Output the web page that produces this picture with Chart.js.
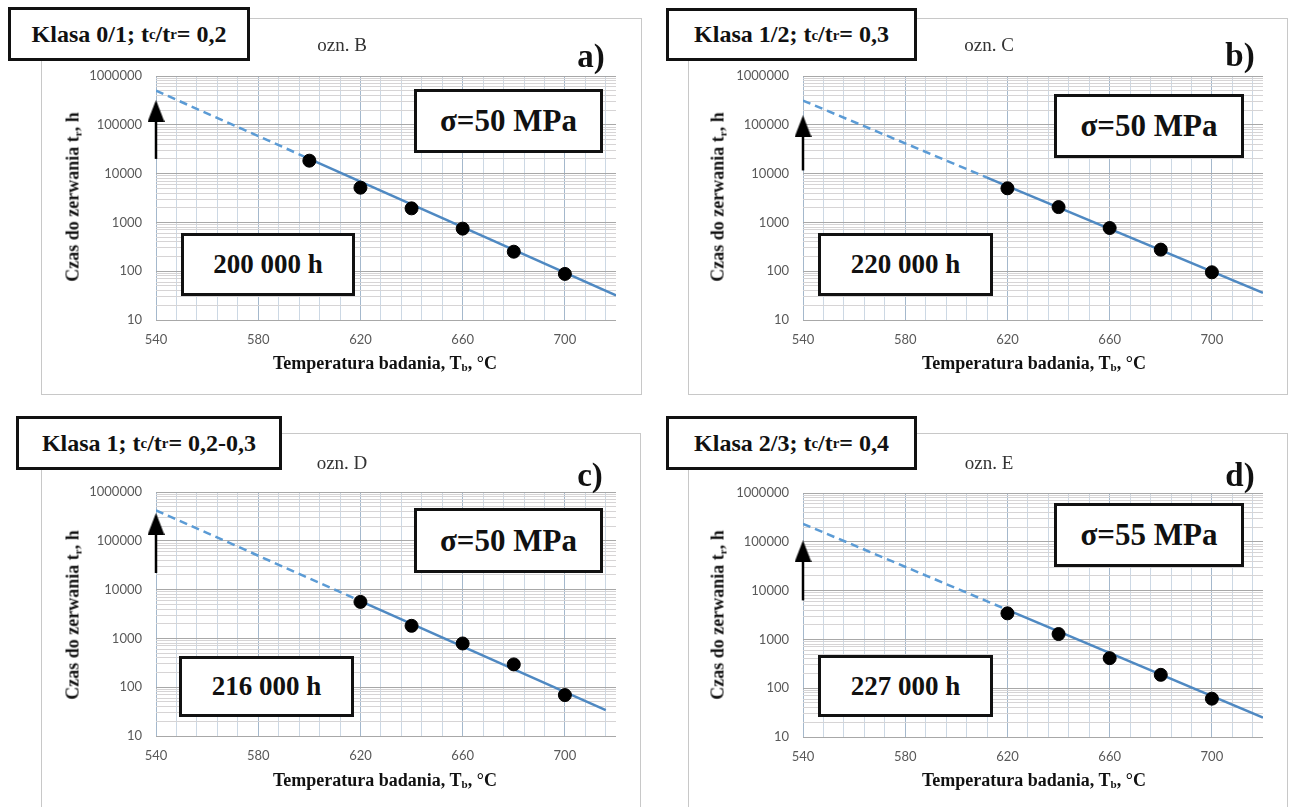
<!DOCTYPE html>
<html>
<head>
<meta charset="utf-8">
<script src="https://cdn.jsdelivr.net/npm/chart.js@4.4.1/dist/chart.umd.min.js"></script>
<style>
  body { margin: 0; width: 1290px; height: 807px; overflow: hidden; position: relative; background: #fff;
         font-family: 'Liberation Serif', 'Times New Roman', serif; }
  .ramka { position: absolute; box-sizing: border-box; border: 1px solid #c8c8c8; background: #fff; }
  canvas { position: absolute; }
  .box { position: absolute; box-sizing: border-box; border: 3px solid #111; background: #fff; color: #111;
         display: flex; align-items: center; justify-content: center; font-weight: bold; white-space: nowrap; }
  .txt { position: absolute; transform: translate(-50%, -50%); white-space: nowrap; color: #111; }
  .ytit { transform: translate(-50%, -50%) rotate(-90deg); }
  sub { font-size: 62%; vertical-align: -0.25em; line-height: 0; }
</style>
</head>
<body>
<script>
  // ---------- dane ----------
  const xLabels = [540, 580, 620, 660, 700];
  const yLabels = [10, 100, 1000, 10000, 100000, 1000000];

  const tempA = [600, 620, 640, 660, 680, 700];
  const czasA = [18400, 5150, 1940, 745, 251, 88];
  const tempBCD = [620, 640, 660, 680, 700];
  const czasB = [5000, 2060, 767, 277, 95];
  const czasC = [5600, 1810, 787, 293, 69];
  const czasD = [3420, 1288, 413, 188, 61];

  // linia trendu: [start, koniec ekstrapolacji, koniec]
  const trendTA = [540, 600, 720], trendVA = [500000, 20100, 32];
  const trendTB = [540, 612, 720], trendVB = [313000, 8300, 36];
  const trendTC = [540, 620, 716], trendVC = [422000, 5820, 34];
  const trendTD = [540, 620, 720], trendVD = [234000, 4030, 25];

  // strzałka przy 540 °C: [dół, grot]
  const strzalkaA = [20000, 192000];
  const strzalkaB = [11600, 93500];
  const strzalkaC = [21900, 221000];
  const strzalkaD = [6300, 64000];

  // linie siatki (Excel: minor co 8 °C, log co 1..9)
  const xGrid = [];
  for (let v = 540; v < 720; v += 8) xGrid.push(v);
  const yGrid = [];
  yLabels.forEach(d => { for (let m = 1; m <= 9; m++) if (d * m <= 1000000) yGrid.push(d * m); });

  // grot strzałki (węższy i wyższy niż 'triangle')
  const grot = document.createElement("canvas");
  grot.width = 17; grot.height = 22;
  const g = grot.getContext("2d");
  g.fillStyle = "#000";
  g.beginPath(); g.moveTo(8.5, 0); g.lineTo(17, 22); g.lineTo(0, 22); g.closePath(); g.fill();

  const panele = [
    { temp: tempA, czas: czasA, trT: trendTA, trV: trendVA, arrow: strzalkaA,
      klasa: "Klasa 0/1; t<sub>c</sub>/t<sub>r</sub>= 0,2", ozn: "ozn. B", lit: "a)", sigma: "σ=50 MPa", godz: "200 000 h",
      plot: [156, 76], ramka: [41, 18, 601, 377], kBox: [8, 7, 242, 54], oznPos: [342, 45], litPos: [591, 56],
      sBox: [414, 89, 189, 64], gBox: [181, 233, 174, 63], yT: [73, 197], xT: [385, 363] },
    { temp: tempBCD, czas: czasB, trT: trendTB, trV: trendVB, arrow: strzalkaB,
      klasa: "Klasa 1/2; t<sub>c</sub>/t<sub>r</sub>= 0,3", ozn: "ozn. C", lit: "b)", sigma: "σ=50 MPa", godz: "220 000 h",
      plot: [803, 76], ramka: [688, 18, 600, 377], kBox: [666, 8, 251, 53], oznPos: [989, 45], litPos: [1240, 55],
      sBox: [1054, 94, 190, 64], gBox: [818, 233, 175, 63], yT: [718, 197], xT: [1034, 363] },
    { temp: tempBCD, czas: czasC, trT: trendTC, trV: trendVC, arrow: strzalkaC,
      klasa: "Klasa 1; t<sub>c</sub>/t<sub>r</sub>= 0,2-0,3", ozn: "ozn. D", lit: "c)", sigma: "σ=50 MPa", godz: "216 000 h",
      plot: [156, 492], ramka: [41, 433, 600, 390], kBox: [16, 416, 266, 54], oznPos: [342, 463], litPos: [590, 475],
      sBox: [414, 508, 189, 65], gBox: [179, 656, 175, 61], yT: [73, 615], xT: [385, 780] },
    { temp: tempBCD, czas: czasD, trT: trendTD, trV: trendVD, arrow: strzalkaD,
      klasa: "Klasa 2/3; t<sub>c</sub>/t<sub>r</sub>= 0,4", ozn: "ozn. E", lit: "d)", sigma: "σ=55 MPa", godz: "227 000 h",
      plot: [803, 493], ramka: [688, 433, 600, 390], kBox: [666, 416, 251, 54], oznPos: [989, 463], litPos: [1240, 475],
      sBox: [1054, 503, 190, 64], gBox: [818, 655, 175, 62], yT: [718, 615], xT: [1034, 780] }
  ];

  function el(cls, html, css) {
    const d = document.createElement("div");
    d.className = cls;
    d.innerHTML = html;
    Object.assign(d.style, css);
    document.body.appendChild(d);
    return d;
  }
  const rect = r => ({ left: r[0] + "px", top: r[1] + "px", width: r[2] + "px", height: r[3] + "px" });
  const pos = p => ({ left: p[0] + "px", top: p[1] + "px" });
  const pkt = (T, V, i) => ({ x: T[i], y: V[i] });

  panele.forEach(p => {
    el("ramka", "", rect(p.ramka));

    const cv = document.createElement("canvas");
    cv.width = 601; cv.height = 377;
    cv.style.left = (p.plot[0] - 115) + "px";
    cv.style.top = (p.plot[1] - 58) + "px";
    document.body.appendChild(cv);

    new Chart(cv.getContext("2d"), {
      type: "scatter",
      data: {
        datasets: [
          { // punkty pomiarowe
            data: p.temp.map((t, i) => ({ x: t, y: p.czas[i] })),
            backgroundColor: "#000", borderColor: "#000", pointRadius: 6.5, pointHoverRadius: 6.5
          },
          { // ekstrapolacja
            data: [pkt(p.trT, p.trV, 0), pkt(p.trT, p.trV, 1)],
            showLine: true, borderColor: "#5b9bd5", borderWidth: 2.5, borderDash: [8, 5], pointRadius: 0
          },
          { // zakres badań
            data: [pkt(p.trT, p.trV, 1), pkt(p.trT, p.trV, 2)],
            showLine: true, borderColor: "#4f89c2", borderWidth: 2.5, pointRadius: 0
          },
          { // strzałka
            data: [{ x: 540, y: p.arrow[0] }, { x: 540, y: p.arrow[1] }],
            showLine: true, borderColor: "#000", backgroundColor: "#000", borderWidth: 2.5,
            pointRadius: [0, 11], pointStyle: [false, grot], clip: false
          }
        ]
      },
      options: {
        responsive: false,
        animation: false,
        devicePixelRatio: 1,
        events: [],
        layout: { padding: { top: 58, right: 26, bottom: 0, left: 0 } },
        plugins: { legend: { display: false }, tooltip: { enabled: false } },
        scales: {
          x: {
            type: "linear", min: 540, max: 720,
            afterBuildTicks: s => { s.ticks = xGrid.map(v => ({ value: v })); },
            afterFit: s => { s.height = 75; },
            border: { display: false },
            grid: { drawTicks: false, color: c => (c.tick && xLabels.includes(c.tick.value) ? "#a4b8cc" : "#ccd8e4") },
            ticks: {
              padding: 12, autoSkip: false, maxRotation: 0, color: "#595959",
              font: { family: "Lato", size: 13 },
              callback: v => (xLabels.includes(v) ? String(v) : "")
            }
          },
          y: {
            type: "logarithmic", min: 10, max: 1000000,
            afterBuildTicks: s => { s.ticks = yGrid.map(v => ({ value: v })); },
            afterFit: s => { s.width = 115; },
            border: { display: false },
            grid: { drawTicks: false, color: c => (c.tick && yLabels.includes(c.tick.value) ? "#a8a8a8" : "#d6d4d5") },
            ticks: {
              padding: 14, autoSkip: false, color: "#595959",
              font: { family: "Lato", size: 13 },
              callback: v => (yLabels.includes(v) ? String(v) : "")
            }
          }
        }
      }
    });

    el("box", p.klasa, Object.assign(rect(p.kBox), { fontSize: "24px" }));
    el("txt", p.ozn, Object.assign(pos(p.oznPos), { fontSize: "19px", color: "#333" }));
    el("txt", p.lit, Object.assign(pos(p.litPos), { fontSize: "33px", fontWeight: "bold" }));
    el("box", p.sigma, Object.assign(rect(p.sBox), { fontSize: "31px" }));
    el("box", p.godz, Object.assign(rect(p.gBox), { fontSize: "27px" }));
    el("txt ytit", "Czas do zerwania t<sub>r</sub>, h", Object.assign(pos(p.yT), { fontSize: "18px", fontWeight: "bold" }));
    el("txt", "Temperatura badania, T<sub>b</sub>, °C", Object.assign(pos(p.xT), { fontSize: "18px", fontWeight: "bold" }));
  });
</script>
</body>
</html>
